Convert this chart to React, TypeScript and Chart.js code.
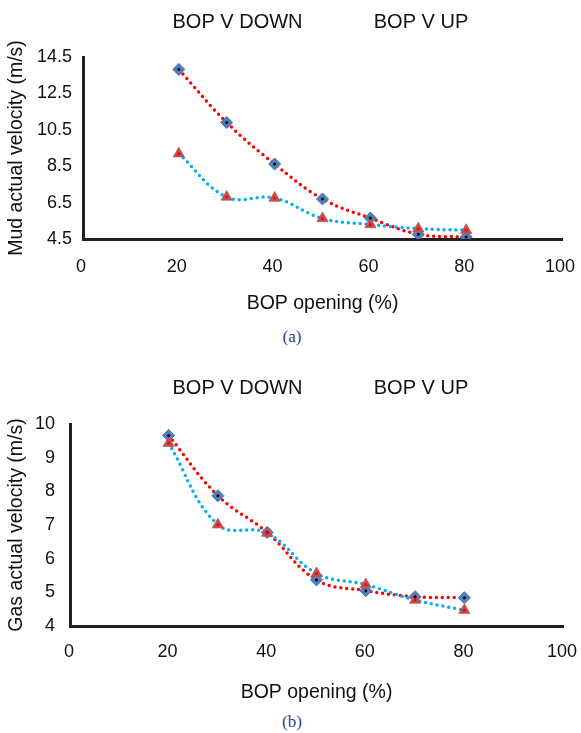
import React, { useEffect, useRef } from "react";
import { Chart, registerables } from "chart.js";

Chart.register(...registerables);

// ---------- data ----------
const seriesNames = ["BOP V DOWN", "BOP V UP"];
const bopOpening = [20, 30, 40, 50, 60, 70, 80];
const mudDown = [13.82, 10.9, 8.62, 6.7, 5.65, 4.76, 4.61];
const mudUp = [9.19, 6.81, 6.75, 5.63, 5.3, 5.07, 4.98];
const gasDown = [9.66, 7.87, 6.78, 5.37, 5.05, 4.87, 4.84];
const gasUp = [9.43, 7.01, 6.76, 5.56, 5.23, 4.77, 4.47];
const xTitle = "BOP opening (%)";
const mudTitle = "Mud actual velocity (m/s)";
const gasTitle = "Gas actual velocity (m/s)";
const captions = ["(a)", "(b)"];

const SANS = '"Liberation Sans", Arial, Helvetica, sans-serif';
const AXIS = "#231f20";

type Panel = {
  down: number[];
  up: number[];
  yTitle: string;
  yMin: number;
  yMax: number;
  yStep: number;
  yFmt: (v: number) => string;
  width: number;
  height: number;
  padTop: number;
  padRight: number;
  yWidth: number;
  xHeight: number;
  yTickPad: number;
  xTickPad: number;
  xLabelOffset: number;
  legendY: number;
};

const toXY = (ys: number[]) => ys.map((y, i) => ({ x: bopOpening[i], y }));

const legendTextPlugin = {
  id: "legendText",
  afterDraw(chart: any) {
    const o = chart.options.plugins.legendText;
    if (!o) return;
    const ctx = chart.ctx;
    ctx.save();
    ctx.font = `20px ${SANS}`;
    ctx.fillStyle = "#111";
    ctx.textAlign = "center";
    ctx.textBaseline = "middle";
    seriesNames.forEach((name, i) => {
      ctx.fillText(name, o.xs[i], o.y);
    });
    ctx.restore();
  },
};

function buildConfig(p: Panel): any {
  const lineCommon = {
    showLine: true,
    pointRadius: 0,
    pointHoverRadius: 0,
    borderWidth: 3.5,
    borderDash: [0, 6],
    borderCapStyle: "round",
    tension: 0.4,
    fill: false,
  };
  return {
    type: "scatter",
    data: {
      datasets: [
        {
          ...lineCommon,
          label: seriesNames[0] + " line",
          data: toXY(p.down),
          borderColor: "#ff0000",
          order: 6,
        },
        {
          ...lineCommon,
          label: seriesNames[1] + " line",
          data: toXY(p.up),
          borderColor: "#00b0f0",
          order: 5,
        },
        {
          label: seriesNames[0],
          data: toXY(p.down),
          showLine: false,
          pointStyle: "rectRot",
          pointRadius: 6,
          backgroundColor: "#4f81bd",
          borderColor: "#3f6faa",
          borderWidth: 1,
          order: 4,
        },
        {
          label: seriesNames[1],
          data: toXY(p.up),
          showLine: false,
          pointStyle: "triangle",
          pointRadius: 6.5,
          backgroundColor: "#c0504d",
          borderColor: "rgba(192,80,77,0.7)",
          borderWidth: 1,
          order: 3,
        },
        {
          label: seriesNames[0] + " center",
          data: toXY(p.down),
          showLine: false,
          pointStyle: "circle",
          pointRadius: 1.5,
          backgroundColor: "#000000",
          borderWidth: 0,
          order: 2,
        },
        {
          label: seriesNames[1] + " center",
          data: toXY(p.up),
          showLine: false,
          pointStyle: "circle",
          pointRadius: 1.5,
          backgroundColor: "#ff0000",
          borderWidth: 0,
          order: 1,
        },
      ],
    },
    options: {
      responsive: false,
      animation: false,
      devicePixelRatio: 1,
      events: [],
      layout: { padding: { top: p.padTop, right: p.padRight, left: 0, bottom: 0 } },
      plugins: {
        legend: { display: false },
        tooltip: { enabled: false },
        legendText: { xs: [237.5, 421], y: p.legendY },
      },
      scales: {
        x: {
          type: "linear",
          min: 0,
          max: 100,
          ticks: {
            stepSize: 20,
            color: "#111",
            font: { family: SANS, size: 18 },
            padding: p.xTickPad,
            labelOffset: p.xLabelOffset,
            maxRotation: 0,
          },
          grid: { display: false, drawTicks: false },
          border: { display: true, color: AXIS, width: 3 },
          title: {
            display: true,
            text: xTitle,
            color: "#111",
            font: { family: SANS, size: 19.5 },
            padding: { top: 4, bottom: 4 },
          },
          afterFit: (s: any) => {
            s.height = p.xHeight;
            s.paddingRight = 0;
            s.paddingLeft = 0;
          },
        },
        y: {
          type: "linear",
          min: p.yMin,
          max: p.yMax,
          ticks: {
            stepSize: p.yStep,
            color: "#111",
            font: { family: SANS, size: 18 },
            padding: p.yTickPad,
            callback: (v: number) => p.yFmt(v),
          },
          grid: { display: false, drawTicks: false },
          border: { display: true, color: AXIS, width: 3 },
          title: {
            display: true,
            text: p.yTitle,
            color: "#111",
            font: { family: SANS, size: 19.5 },
            padding: { top: 5, bottom: 4 },
          },
          afterFit: (s: any) => {
            s.width = p.yWidth;
            s.paddingTop = 0;
            s.paddingBottom = 0;
          },
        },
      },
    },
    plugins: [legendTextPlugin],
  };
}

function ChartPanel({ panel, top }: { panel: Panel; top: number }) {
  const ref = useRef<HTMLCanvasElement | null>(null);
  useEffect(() => {
    if (!ref.current) return;
    const chart = new Chart(ref.current, buildConfig(panel));
    return () => chart.destroy();
  }, [panel]);
  return (
    <canvas
      ref={ref}
      width={panel.width}
      height={panel.height}
      style={{ position: "absolute", left: 0, top, width: panel.width, height: panel.height }}
    />
  );
}

const panelA: Panel = {
  down: mudDown,
  up: mudUp,
  yTitle: mudTitle,
  yMin: 4.5,
  yMax: 14.5,
  yStep: 2,
  yFmt: (v) => v.toFixed(1),
  width: 581,
  height: 319,
  padTop: 57,
  padRight: 19,
  yWidth: 83,
  xHeight: 80,
  yTickPad: 11,
  xTickPad: 17,
  xLabelOffset: -2,
  legendY: 22,
};

const panelB: Panel = {
  down: gasDown,
  up: gasUp,
  yTitle: gasTitle,
  yMin: 4,
  yMax: 10,
  yStep: 1,
  yFmt: (v) => String(v),
  width: 581,
  height: 358,
  padTop: 74,
  padRight: 18,
  yWidth: 70,
  xHeight: 82,
  yTickPad: 15,
  xTickPad: 15.5,
  xLabelOffset: -1,
  legendY: 38,
};

const captionStyle = (cy: number): React.CSSProperties => ({
  position: "absolute",
  left: 242,
  width: 100,
  top: cy - 10,
  height: 20,
  lineHeight: "20px",
  textAlign: "center",
  fontFamily: '"Liberation Serif", "Times New Roman", serif',
  fontSize: 17,
  color: "#3a3a96",
});

export default function App() {
  return (
    <div
      style={{
        position: "fixed",
        left: 0,
        top: 0,
        width: 581,
        height: 733,
        background: "#ffffff",
        overflow: "hidden",
      }}
    >
      <ChartPanel panel={panelA} top={0} />
      <div style={captionStyle(337)}>{captions[0]}</div>
      <ChartPanel panel={panelB} top={350} />
      <div style={captionStyle(722)}>{captions[1]}</div>
    </div>
  );
}
